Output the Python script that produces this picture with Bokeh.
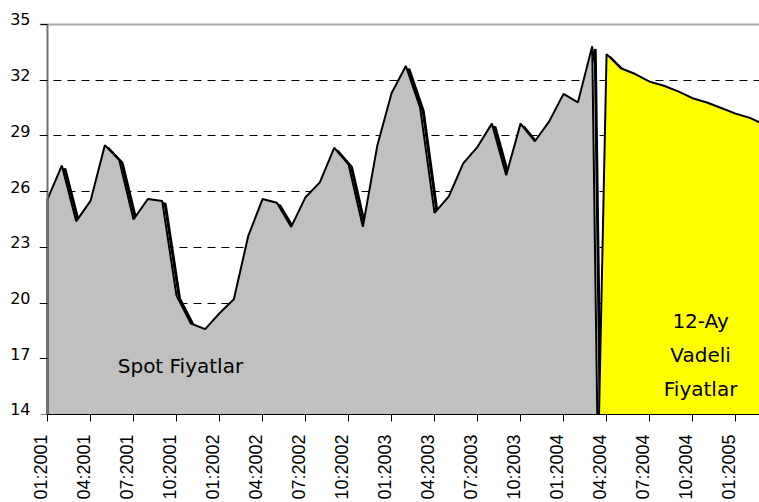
import math
from bokeh.plotting import figure
from bokeh.models import (FixedTicker, Label, Span, Range1d, LinearAxis,
                          CustomJSTickFormatter)
from bokeh.embed import file_html
from bokeh.resources import INLINE

# ---- data ----
spot_values = [25.6, 27.4, 24.4, 25.5, 28.5, 27.7, 24.5, 25.6, 25.5, 20.4,
               18.9, 18.6, 19.45, 20.2, 23.6, 25.6, 25.4, 24.1, 25.7, 26.5,
               28.36, 27.47, 24.1, 28.45, 31.3, 32.76, 30.5, 24.85, 25.74, 27.52,
               28.41, 29.66, 26.88, 29.66, 28.71, 29.78, 31.26, 30.8, 33.83]
spot_months = list(range(len(spot_values)))            # 0 = 01:2001

fwd_values = [33.4, 32.64, 32.33, 31.92, 31.7, 31.4, 31.03, 30.8, 30.5, 30.2, 29.97, 29.6]
fwd_months = list(range(39, 39 + len(fwd_values)))      # 39 = 04:2004

tick_months = list(range(0, 49, 3))
tick_labels = ["01:2001", "04:2001", "07:2001", "10:2001",
               "01:2002", "04:2002", "07:2002", "10:2002",
               "01:2003", "04:2003", "07:2003", "10:2003",
               "01:2004", "04:2004", "07:2004", "10:2004", "01:2005"]
y_ticks = [14, 17, 20, 23, 26, 29, 32, 35]
grid_ticks = [17, 20, 23, 26, 29, 32]

# ---- style / layout parameters ----
X0, X_END = -0.558, 49.67   # frame extends 8px left of the value axis
Y0, Y_END = 14, 35.4275     # frame extends 8px above the 35 line
SPOT_DROP = 0.6     # width (months) of the spot series' fall-off edge
FWD_RISE = 0.9      # width (months) of the forward series' rising edge
SH_DX, SH_DY = 0.21, -0.16   # shadow offset (~3px right, ~3px down)
XS = 0.45           # x-label shift (months): Excel puts the label left of its tick
YS = 0.27           # y-label shift (units): Excel puts the label above its tick

spot_px = [spot_months[0]] + spot_months + [spot_months[-1] + SPOT_DROP]
spot_py = [0] + spot_values + [0]
fwd_px = [fwd_months[0] - FWD_RISE] + fwd_months + [fwd_months[-1]]
fwd_py = [0] + fwd_values + [0]

p = figure(width=759, height=502,
           x_range=Range1d(X0, X_END), y_range=Range1d(Y0, Y_END),
           output_backend="svg", toolbar_location=None,
           min_border_left=39, min_border_right=0,
           min_border_top=16, min_border_bottom=85)
p.outline_line_color = None
p.background_fill_color = "white"
p.border_fill_color = "white"
p.extra_x_ranges = {"xlab": Range1d(X0 + XS, X_END + XS)}
p.extra_y_ranges = {"ylab": Range1d(Y0 - YS, Y_END - YS)}

blank = CustomJSTickFormatter(code="return ''")

# tick-mark axes (no labels)
xa = p.below[0]
ya = p.left[0]
xa.ticker = FixedTicker(ticks=tick_months)
ya.ticker = FixedTicker(ticks=y_ticks)
xa.bounds = (0, X_END)
ya.bounds = (y_ticks[0], y_ticks[-1])
ya.fixed_location = 0
for ax in (xa, ya):
    ax.formatter = blank
    ax.major_label_text_font_size = "0px"
    ax.major_label_standoff = 0
    ax.major_tick_out = 7
    ax.major_tick_in = 0
    ax.minor_tick_line_color = None
    ax.major_tick_line_color = "black"
xa.axis_line_color = "black"
xa.axis_line_width = 1
ya.axis_line_color = "#707070"
ya.axis_line_width = 2

# label axes
xlab = LinearAxis(x_range_name="xlab", ticker=FixedTicker(ticks=tick_months),
                  major_label_overrides={m: t for m, t in zip(tick_months, tick_labels)},
                  axis_line_color=None, major_tick_line_color=None,
                  minor_tick_line_color=None, major_tick_out=0, major_tick_in=0,
                  major_label_orientation=math.pi / 2, major_label_standoff=13,
                  major_label_text_font="Liberation Sans",
                  major_label_text_font_size="18px", major_label_text_color="black")
p.add_layout(xlab, "below")
ylab = LinearAxis(y_range_name="ylab", ticker=FixedTicker(ticks=y_ticks),
                  axis_line_color=None, major_tick_line_color=None,
                  minor_tick_line_color=None, major_tick_out=0, major_tick_in=0,
                  major_label_standoff=9,
                  major_label_text_font="DejaVu Sans",
                  major_label_text_font_size="16px", major_label_text_color="black")
p.add_layout(ylab, "left")

# grid
p.xgrid.grid_line_color = None
p.ygrid.ticker = FixedTicker(ticks=grid_ticks)
p.ygrid.grid_line_color = "black"
p.ygrid.grid_line_dash = "8 6"
p.ygrid.grid_line_width = 1
p.add_layout(Span(location=35, dimension="width", line_color="#a8a8a8",
                  line_width=2, level="underlay"))

# spot series: shadow, fill, border
p.patch([x + SH_DX for x in spot_px], [y + SH_DY for y in spot_py],
        fill_color=None, line_color="black", line_width=3)
p.patch(spot_px, spot_py, fill_color="#c0c0c0", line_color="black", line_width=2)

# forward series
p.patch([x + SH_DX for x in fwd_px], [y + SH_DY for y in fwd_py],
        fill_color=None, line_color="black", line_width=3)
p.patch(fwd_px, fwd_py, fill_color="#ffff00", line_color="black", line_width=2)

# annotations
p.add_layout(Label(x=4.9, y=16.6, text="Spot Fiyatlar", text_font="DejaVu Sans",
                   text_font_size="20px", text_align="left", text_baseline="alphabetic",
                   text_color="black"))
for txt, yy in (("12-Ay", 19.04), ("Vadeli", 17.22), ("Fiyatlar", 15.35)):
    p.add_layout(Label(x=45.56, y=yy, text=txt, text_font="DejaVu Sans",
                       text_font_size="20px", text_align="center",
                       text_baseline="alphabetic", text_color="black"))

open("out.html", "w").write(file_html(p, INLINE))
